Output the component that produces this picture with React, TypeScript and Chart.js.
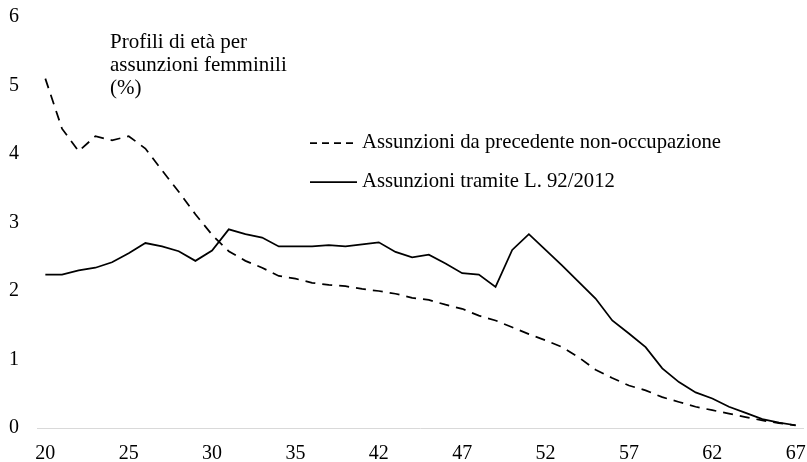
import React, { useEffect, useRef } from "react";
import { Chart, registerables } from "chart.js";

Chart.register(...registerables);

const ages: string[] = [
  "20","21","22","23","24","25","26","27","28","29",
  "30","31","32","33","34","35","36","37","40","41",
  "42","43","44","45","46","47","48","49","50","51",
  "52","53","54","55","56","57","58","59","60","61",
  "62","63","64","65","66","67",
];

const nonOccupazione: number[] = [
  5.1, 4.37, 4.04, 4.26, 4.2, 4.26, 4.08, 3.76, 3.45, 3.12,
  2.82, 2.58, 2.44, 2.34, 2.22, 2.18, 2.12, 2.09, 2.07, 2.03,
  2.0, 1.96, 1.9, 1.87, 1.8, 1.74, 1.64, 1.57, 1.47, 1.37,
  1.28, 1.18, 1.03, 0.85, 0.73, 0.62, 0.55, 0.45, 0.38, 0.31,
  0.26, 0.21, 0.16, 0.11, 0.07, 0.04,
];

const tramiteL92: number[] = [
  2.24, 2.24, 2.3, 2.34, 2.42, 2.55, 2.7, 2.65, 2.58, 2.44,
  2.59, 2.9, 2.83, 2.78, 2.65, 2.65, 2.65, 2.67, 2.65, 2.68,
  2.71, 2.57, 2.49, 2.53, 2.4, 2.26, 2.24, 2.06, 2.6, 2.83,
  2.6, 2.37, 2.13, 1.89, 1.57, 1.38, 1.18, 0.87, 0.67, 0.52,
  0.43, 0.31, 0.22, 0.13, 0.08, 0.04,
];

const yTicks: number[] = [0, 1, 2, 3, 4, 5, 6];

const titleLines: string[] = ["Profili di età per", "assunzioni femminili", "(%)"];
const legendLabels: string[] = [
  "Assunzioni da precedente non-occupazione",
  "Assunzioni tramite L. 92/2012",
];

const FONT = "'Liberation Serif', 'Times New Roman', serif";

const overlayPlugin = {
  id: "overlay",
  afterDraw(chart: any) {
    const ctx = chart.ctx as CanvasRenderingContext2D;
    ctx.save();
    ctx.fillStyle = "#000";
    ctx.textBaseline = "middle";
    ctx.textAlign = "left";
    // title
    ctx.font = `21px ${FONT}`;
    const ty = [42, 65, 88];
    titleLines.forEach((t, i) => ctx.fillText(t, 110, ty[i]));
    // legend
    ctx.font = `20.7px ${FONT}`;
    const ly = [143, 182];
    ctx.strokeStyle = "#000";
    ctx.lineWidth = 1.75;
    legendLabels.forEach((t, i) => {
      ctx.beginPath();
      ctx.setLineDash(i === 0 ? [7, 5] : []);
      ctx.moveTo(310, ly[i]);
      ctx.lineTo(357, ly[i]);
      ctx.stroke();
      ctx.setLineDash([]);
      ctx.fillText(t, 362, ly[i]);
    });
    ctx.restore();
  },
};

export default function App() {
  const ref = useRef<HTMLCanvasElement | null>(null);
  useEffect(() => {
    if (!ref.current) return;
    const chart = new Chart(ref.current, {
      type: "line",
      data: {
        labels: ages,
        datasets: [
          {
            label: legendLabels[0],
            data: nonOccupazione,
            borderColor: "#000",
            borderWidth: 1.75,
            borderDash: [10, 7],
            pointRadius: 0,
            tension: 0,
            fill: false,
          },
          {
            label: legendLabels[1],
            data: tramiteL92,
            borderColor: "#000",
            borderWidth: 1.75,
            pointRadius: 0,
            tension: 0,
            fill: false,
          },
        ],
      },
      options: {
        animation: false,
        responsive: false,
        devicePixelRatio: 1,
        layout: { padding: { top: 17, right: 3, left: 0, bottom: 0 } },
        plugins: {
          legend: { display: false },
          title: { display: false },
          tooltip: { enabled: false },
        },
        scales: {
          x: {
            type: "category",
            offset: true,
            grid: { display: false, drawTicks: false },
            border: { display: false },
            ticks: {
              autoSkip: false,
              maxRotation: 0,
              minRotation: 0,
              padding: 14,
              color: "#000",
              font: { family: FONT, size: 20 },
              callback: (_v: any, i: number) => (i % 5 === 0 ? ages[i] : ""),
            },
            afterFit: (s: any) => {
              s.height = 34;
              s.paddingLeft = 0;
              s.paddingRight = 0;
            },
          },
          y: {
            min: 0,
            max: 6,
            afterBuildTicks: (s: any) => {
              s.ticks = yTicks.map((v) => ({ value: v }));
            },
            grid: {
              drawTicks: false,
              color: (c: any) => (c.tick && c.tick.value === 0 ? "#d9d9d9" : "rgba(0,0,0,0)"),
              lineWidth: 1,
            },
            border: { display: false },
            ticks: {
              padding: 18,
              color: "#000",
              font: { family: FONT, size: 20 },
            },
            afterFit: (s: any) => {
              s.width = 37;
              s.paddingTop = 0;
              s.paddingBottom = 0;
            },
          },
        },
      },
      plugins: [overlayPlugin],
    });
    return () => chart.destroy();
  }, []);
  return (
    <div style={{ position: "fixed", left: 0, top: 0, width: 807, height: 462, background: "#fff" }}>
      <canvas ref={ref} width={807} height={462} />
    </div>
  );
}
